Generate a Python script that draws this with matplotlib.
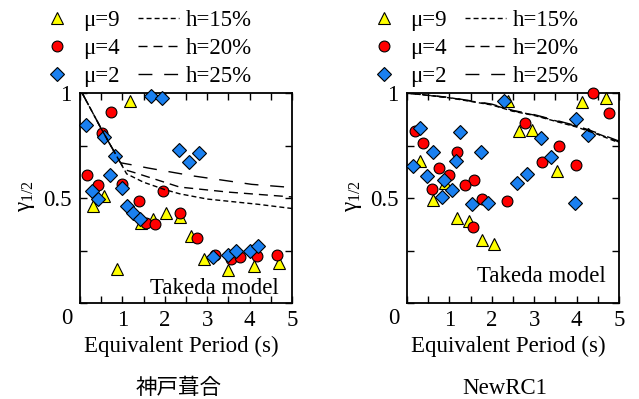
import matplotlib
matplotlib.use('Agg')
import matplotlib.pyplot as plt
from matplotlib.lines import Line2D

plt.rcParams['font.family'] = ['Liberation Serif', 'DejaVu Serif']
plt.rcParams['mathtext.fontset'] = 'custom'
plt.rcParams['mathtext.rm'] = 'Liberation Serif'
plt.rcParams['mathtext.it'] = 'Liberation Serif:italic'
plt.rcParams['font.size'] = 16.5

# Kobe Fukiai record
kobe_mu9_T = [1.18, 0.57, 0.31, 0.87, 1.45, 1.73, 2.04, 2.36, 2.62, 2.92, 3.50, 4.10, 4.69]
kobe_mu9_g = [0.96, 0.51, 0.46, 0.16, 0.38, 0.40, 0.43, 0.41, 0.32, 0.21, 0.157, 0.175, 0.19]
kobe_mu4_T = [0.73, 0.52, 0.16, 0.43, 0.99, 1.96, 1.40, 1.55, 1.76, 2.37, 2.77, 3.18, 3.56, 3.77, 4.17, 4.64]
kobe_mu4_g = [0.91, 0.81, 0.61, 0.56, 0.567, 0.535, 0.486, 0.38, 0.375, 0.43, 0.31, 0.23, 0.21, 0.22, 0.225, 0.23]
kobe_mu2_T = [0.14, 0.57, 0.83, 1.67, 1.94, 2.34, 2.81, 2.57, 0.71, 0.99, 0.29, 0.42, 1.12, 1.24, 1.41,
              3.14, 3.50, 3.68, 4.01, 4.19]
kobe_mu2_g = [0.85, 0.79, 0.70, 0.985, 0.976, 0.73, 0.715, 0.67, 0.61, 0.548, 0.535, 0.495, 0.46, 0.43, 0.40,
              0.22, 0.23, 0.25, 0.25, 0.27]

kobe_h15_T = [0.05, 0.5, 1.1, 1.5, 2.0, 2.35, 3.0, 4.2, 5.0]
kobe_h15_g = [1.0, 0.83, 0.615, 0.575, 0.54, 0.52, 0.495, 0.47, 0.45]
kobe_h20_T = [0.05, 0.5, 1.05, 1.3, 2.35, 3.5, 5.0]
kobe_h20_g = [1.0, 0.83, 0.635, 0.62, 0.552, 0.528, 0.505]
kobe_h25_T = [0.05, 0.5, 0.95, 1.25, 1.6, 2.67, 4.05, 5.0]
kobe_h25_g = [1.0, 0.83, 0.668, 0.657, 0.643, 0.605, 0.565, 0.55]

# NewRC1 record
rc_mu9_T = [2.38, 4.13, 4.69, 2.64, 2.95, 3.54, 0.31, 0.90, 0.61, 1.18, 1.46, 1.77, 2.05]
rc_mu9_g = [0.962, 0.957, 0.976, 0.819, 0.824, 0.63, 0.676, 0.57, 0.49, 0.404, 0.39, 0.30, 0.281]
rc_mu4_T = [4.39, 4.76, 2.78, 3.59, 3.18, 3.99, 1.58, 1.37, 1.18, 0.19, 0.38, 0.75, 0.99, 0.59, 1.56, 1.77, 2.36]
rc_mu4_g = [1.0, 0.905, 0.857, 0.75, 0.67, 0.657, 0.585, 0.56, 0.718, 0.819, 0.763, 0.643, 0.61, 0.545,
            0.362, 0.495, 0.486]
rc_mu2_T = [2.29, 3.99, 4.27, 3.16, 3.40, 2.83, 2.59, 1.74, 1.25, 1.16, 0.31, 0.61, 0.15, 0.46, 0.87, 1.06,
            0.83, 1.53, 1.91, 3.96]
rc_mu2_g = [0.962, 0.876, 0.80, 0.786, 0.695, 0.614, 0.57, 0.72, 0.816, 0.677, 0.835, 0.72, 0.653, 0.606,
            0.586, 0.538, 0.503, 0.47, 0.476, 0.476]

rc_h_T = [0.0, 1.0, 2.0, 2.5, 3.0, 4.0, 4.5, 5.0]
rc_h15_g = [1.0, 0.977, 0.943, 0.913, 0.893, 0.838, 0.803, 0.763]
rc_h20_g = [1.0, 0.978, 0.945, 0.915, 0.895, 0.841, 0.806, 0.767]
rc_h25_g = [1.0, 0.979, 0.947, 0.917, 0.897, 0.844, 0.809, 0.771]

mu_labels = ['μ=9', 'μ=4', 'μ=2']
h_labels = ['h=15%', 'h=20%', 'h=25%']
titles = ['神戸葺合', 'NewRC1']

YELLOW = '#FFFF00'
RED = '#FF0000'
BLUE = '#1A80F0'
DASHES = [(3.6, 2.2), (6.5, 4.3), (10, 8.5)]
MARKERS = [('^', YELLOW, 8.0), ('o', RED, 7.8), ('D', BLUE, 7.6)]


def draw_panel(ax, pts, curves, note_y):
    for (T, g), (m, c, s) in zip(pts, MARKERS):
        ax.plot(T, g, ls='none', marker=m, ms=s, mfc=c, mec='black', mew=0.8, clip_on=False, zorder=3)
    for (T, g), d in zip(curves, DASHES):
        ax.plot(T, g, color='black', lw=1.0, dashes=d, zorder=4)

    ax.set_xlim(0, 5)
    ax.set_ylim(0, 1)
    ax.set_xticks([0.5 * i for i in range(11)])
    ax.set_xticklabels(['' if i % 2 or i == 0 else str(i // 2) for i in range(11)])
    ax.set_yticks([0.25 * i for i in range(5)])
    ax.set_yticklabels(['', '', '0.5', '', '1'])
    ax.tick_params(direction='in', length=5, width=1.0, top=True, right=True, pad=5)
    ax.tick_params(axis='y', pad=6)
    for sp in ax.spines.values():
        sp.set_linewidth(1.3)
    ax.annotate('0', xy=(0, 0), xytext=(-13, -15), textcoords='offset pixels',
                ha='center', va='center')

    ax.set_xlabel('Equivalent Period (s)')
    ax.xaxis.set_label_coords(0.476, -0.155)
    ax.set_ylabel('γ$_{1/2}$', rotation=90, va='center')
    ax.yaxis.set_label_coords(-0.25, 0.51)
    ax.text(0.632, note_y, 'Takeda model', transform=ax.transAxes, ha='center', va='center')

    handles = [Line2D([], [], ls='none', marker=m, ms=s, mfc=c, mec='black', mew=0.8)
               for m, c, s in MARKERS]
    handles += [Line2D([], [], color='black', lw=1.0, dashes=d) for d in DASHES]
    ax.legend(handles, mu_labels + h_labels, ncol=2, loc='lower left',
              bbox_to_anchor=(-0.205, 1.028), frameon=False, borderpad=0, borderaxespad=0,
              handlelength=1.75, handletextpad=0.3, columnspacing=0.8, labelspacing=0.3)


fig = plt.figure(figsize=(6.39, 3.99), dpi=100)
ax1 = fig.add_axes([80 / 639, 96 / 399, 212 / 639, 210 / 399])
ax2 = fig.add_axes([407 / 639, 96 / 399, 212 / 639, 210 / 399])

draw_panel(ax1,
           [(kobe_mu9_T, kobe_mu9_g), (kobe_mu4_T, kobe_mu4_g), (kobe_mu2_T, kobe_mu2_g)],
           [(kobe_h15_T, kobe_h15_g), (kobe_h20_T, kobe_h20_g), (kobe_h25_T, kobe_h25_g)],
           0.071)
draw_panel(ax2,
           [(rc_mu9_T, rc_mu9_g), (rc_mu4_T, rc_mu4_g), (rc_mu2_T, rc_mu2_g)],
           [(rc_h_T, rc_h15_g), (rc_h_T, rc_h20_g), (rc_h_T, rc_h25_g)],
           0.124)

fig.text(179 / 639, 1 - 388 / 399, titles[0], ha='center', va='center',
         family=['Noto Sans CJK JP'], fontsize=15.5)
fig.text(505 / 639, 1 - 388 / 399, titles[1], ha='center', va='center')

fig.savefig('out.png', dpi=100)
